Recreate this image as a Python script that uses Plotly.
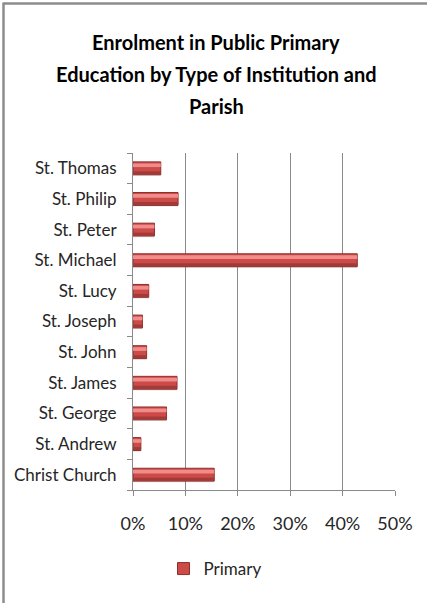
import plotly.graph_objects as go

# Parishes listed bottom-to-top as they appear on the category axis
parishes = ["Christ Church", "St. Andrew", "St. George", "St. James", "St. John",
            "St. Joseph", "St. Lucy", "St. Michael", "St. Peter", "St. Philip", "St. Thomas"]
# Share of public primary enrolment (fraction of total)
primary = [0.155, 0.015, 0.064, 0.084, 0.026, 0.018, 0.030, 0.428, 0.041, 0.086, 0.053]

x_ticks = [0, 0.1, 0.2, 0.3, 0.4, 0.5]
x_tick_labels = ["0%", "10%", "20%", "30%", "40%", "50%"]

title_lines = ["Enrolment in Public Primary",
               "Education by Type of Institution and",
               "Parish"]

W, H = 427, 603
ML, MR, MT, MB = 133, 32, 153, 113
PW, PH = W - ML - MR, H - MT - MB

FONT = "Lato, Open Sans, sans-serif"
TXT = "#262626"

fig = go.Figure()
# drop shadow beneath each bar
fig.add_trace(go.Bar(
    y=parishes, x=primary, orientation="h", width=0.4, offset=-0.25,
    marker=dict(color="rgba(120,120,120,0.22)", line=dict(width=0)),
    showlegend=False, hoverinfo="skip"))
# main bar body
fig.add_trace(go.Bar(
    y=parishes, x=primary, orientation="h", width=0.42, offset=-0.21,
    name="Primary",
    marker=dict(color="#CC4A47", line=dict(color="#8E2F2C", width=1))))
# upper bevel highlight
fig.add_trace(go.Bar(
    y=parishes, x=primary, orientation="h", width=0.12, offset=0.04,
    marker=dict(color="#F08C89", line=dict(width=0)),
    showlegend=False, hoverinfo="skip"))
# lower darker edge
fig.add_trace(go.Bar(
    y=parishes, x=primary, orientation="h", width=0.1, offset=-0.2,
    marker=dict(color="#A23B38", line=dict(width=0)),
    showlegend=False, hoverinfo="skip"))


def px(xp):
    return (xp - ML) / PW


def py(yp):
    return (H - MB - yp) / PH


# outer frame (top and left edges)
fig.add_shape(type="line", xref="paper", yref="paper",
              x0=px(3.5), x1=px(W + 5), y0=py(3.5), y1=py(3.5),
              line=dict(color="#8C8C8C", width=2.5), layer="above")
fig.add_shape(type="line", xref="paper", yref="paper",
              x0=px(3.5), x1=px(3.5), y0=py(2.5), y1=py(H + 5),
              line=dict(color="#8C8C8C", width=2.5), layer="above")

# three-line chart title
for i, line in enumerate(title_lines):
    fig.add_annotation(
        text="<b>%s</b>" % line, xref="paper", yref="paper",
        x=px(216), y=py(42 + 32 * i), xanchor="center", yanchor="middle",
        showarrow=False, font=dict(family=FONT, size=20, color="#000000"))

fig.update_layout(
    width=W, height=H,
    margin=dict(l=ML, r=MR, t=MT, b=MB, autoexpand=False),
    paper_bgcolor="white", plot_bgcolor="white",
    barmode="overlay",
    font=dict(family=FONT, size=17, color=TXT),
    xaxis=dict(
        range=[0, 0.5], tickvals=x_ticks, ticktext=x_tick_labels,
        showgrid=True, gridcolor="#8A8A8A", gridwidth=1,
        showline=True, linecolor="#8A8A8A", linewidth=1,
        ticks="outside", ticklen=5, tickcolor="#8A8A8A",
        ticklabelstandoff=12, zeroline=False, fixedrange=True, automargin=False,
        tickfont=dict(size=18, color=TXT)),
    yaxis=dict(
        categoryorder="array", categoryarray=parishes,
        showline=True, linecolor="#8A8A8A", linewidth=1,
        ticks="outside", ticklen=5, tickcolor="#8A8A8A", tickson="boundaries",
        ticklabelstandoff=12, showgrid=False, fixedrange=True, automargin=False,
        tickfont=dict(size=17, color=TXT)),
    legend=dict(orientation="h", x=px(215), xanchor="center", y=py(569), yanchor="middle",
                font=dict(size=17, color=TXT), itemwidth=30, bgcolor="rgba(0,0,0,0)"),
    showlegend=True,
)

fig.write_html("out.html")
